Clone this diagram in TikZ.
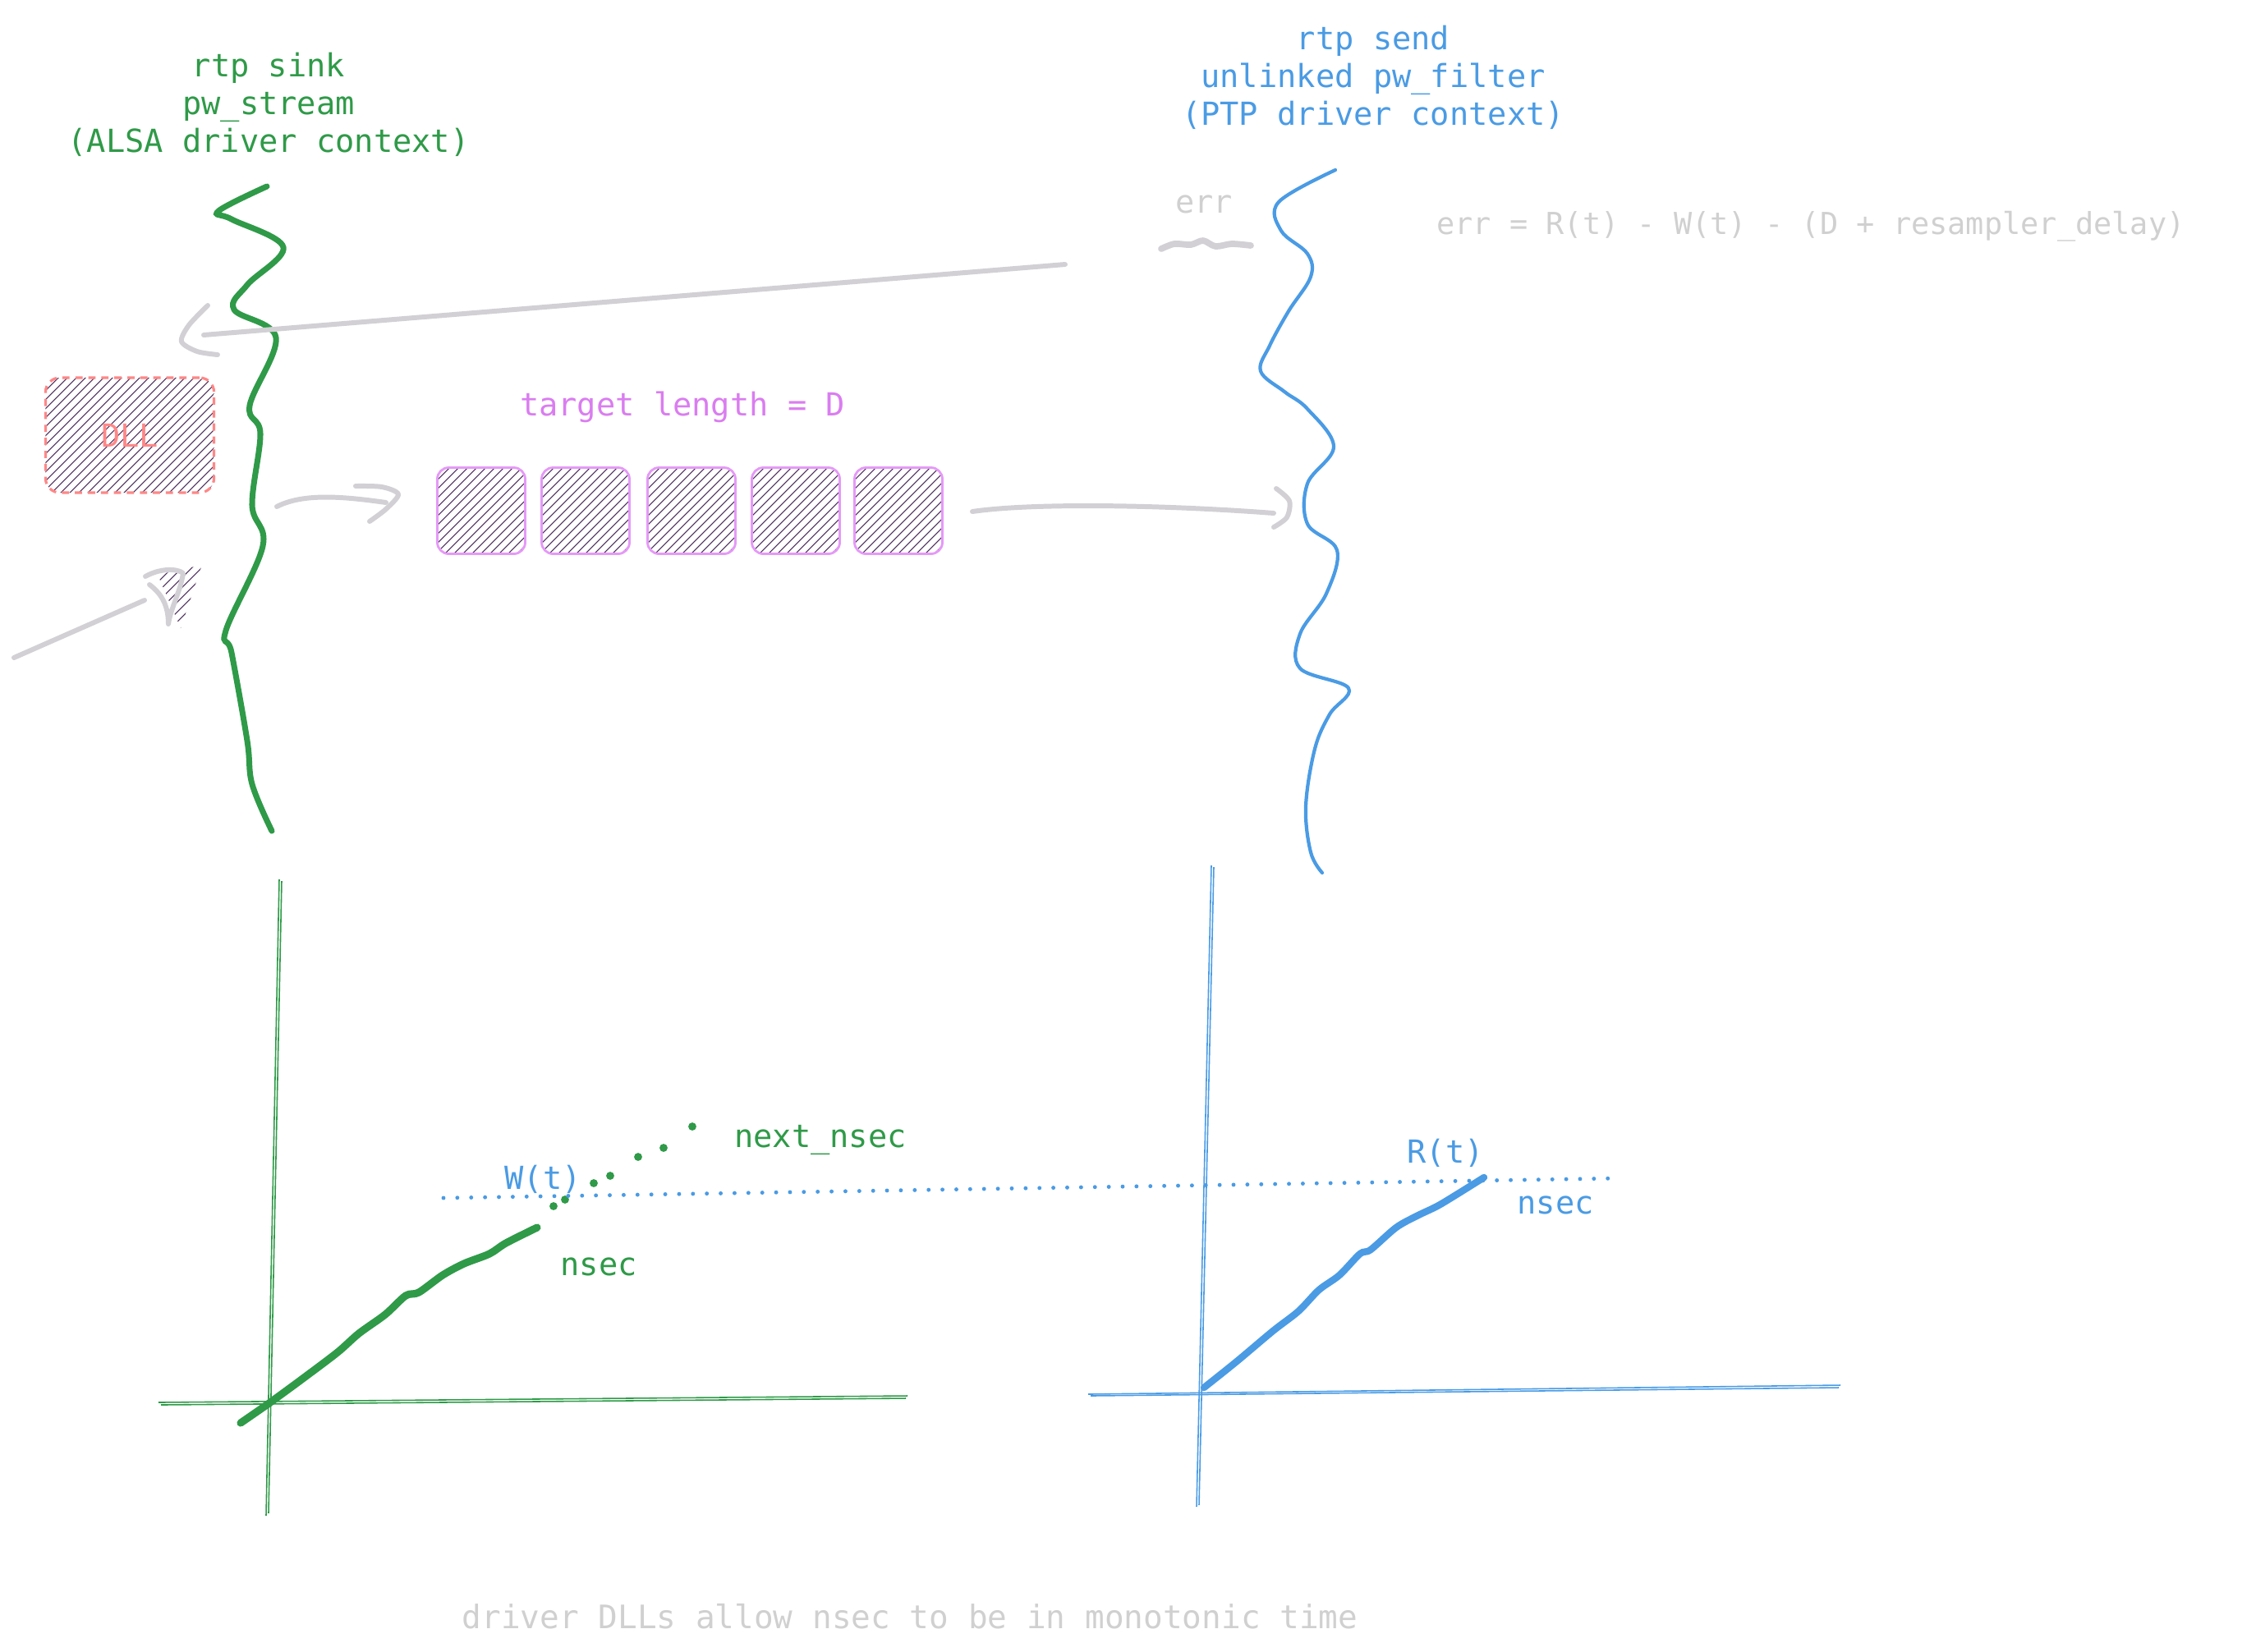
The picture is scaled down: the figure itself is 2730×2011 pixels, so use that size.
\documentclass[tikz,border=0pt]{standalone}
\usepackage{fontspec}
\setmainfont{DejaVu Sans Mono}
\usepackage{xcolor}
\usepackage{tikz}

\definecolor{sinkgreen}{HTML}{2F9A48}
\definecolor{sendblue}{HTML}{4A9BE4}
\definecolor{queuepink}{HTML}{E599F7}
\definecolor{queuetext}{HTML}{DA7DF0}
\definecolor{dllred}{HTML}{FF8787}
\definecolor{sketchgray}{HTML}{D2D0D4}
\definecolor{notegray}{HTML}{D0D0D0}
\definecolor{hatchpurple}{HTML}{4B2D5C}

\begin{document}
\begin{tikzpicture}[x=0.01cm,y=-0.01cm,
  lbl/.style={inner sep=0pt,font=\fontsize{11}{13.1}\selectfont},
  note/.style={inner sep=0pt,text=notegray,font=\fontsize{10.5}{12.6}\selectfont},
  sketch/.style={sketchgray,line width=1.7pt,line cap=round,line join=round},
  hatched/.style={path picture={\foreach \k in {-190,-179,...,190}
      \draw[hatchpurple,solid,line width=0.3pt] (path picture bounding box.center) ++(\k-100,100) -- ++(200,-200);}},
  qbox/.style={draw=queuepink,line width=0.8pt,rounded corners=4pt,minimum width=1.07cm,minimum height=1.05cm,inner sep=0pt,hatched},
  dllbox/.style={draw=dllred,line width=0.9pt,dash pattern=on 2.5pt off 2pt,rounded corners=5pt,minimum width=2.05cm,minimum height=1.4cm,inner sep=0pt,hatched,text=dllred,font=\fontsize{11}{13.1}\selectfont},
  axisg/.style={sinkgreen,line width=0.45pt},
  axisb/.style={sendblue,line width=0.45pt}]
\useasboundingbox (0,0) rectangle (2730,2011);

% titres
\node[lbl,text=sinkgreen,align=center] (sinktitle) at (327,127) {rtp sink\\pw\_stream\\(ALSA driver context)};
\node[lbl,text=sendblue,align=center] (sendtitle) at (1672,94) {rtp send\\unlinked pw\_filter\\(PTP driver context)};

% lignes des threads
\draw[sinkgreen,line width=2pt,line cap=round] plot[smooth,tension=0.6] coordinates {(325,227) (266,257) (282,267) (345,301) (301,347) (285,377) (336,411) (304,494) (317,528) (307,615) (320,665) (275,768) (282,795) (301,902) (307,955) (331,1012)};
\draw[sendblue,line width=1.2pt,line cap=round] plot[smooth,tension=0.6] coordinates {(1626,207) (1557,246) (1560,281) (1592,309) (1596,337) (1569,379) (1546,421) (1535,452) (1564,477) (1592,498) (1624,544) (1592,589) (1592,638) (1628,670) (1615,723) (1583,772) (1583,814) (1642,838) (1619,870) (1601,912) (1590,982) (1596,1038) (1610,1063)};

% erreur
\node[note,font=\fontsize{11}{13.1}\selectfont] (errlabel) at (1466,249) {err};
\draw[sketch,line width=2.2pt] plot[smooth] coordinates {(1414,303) (1430,297) (1450,298) (1465,293) (1480,300) (1500,297) (1523,299)};
\node[note] (errformula) at (2205,276) {err = R(t) - W(t) - (D + resampler\_delay)};
\coordinate (errtail) at (1297,322);
\coordinate (errtip) at (248,408);
\draw[sketch] (errtail) -- (errtip);
\draw[sketch] plot[smooth] coordinates {(253,372) (230,396) (221,416) (240,428) (265,432)};

% DLL
\node[dllbox] (dll) at (158,530) {DLL};
\coordinate (inTail) at (17,801);
\coordinate (inTip) at (176,731);
\draw[sketch] (inTail) -- (inTip);
\begin{scope}
\clip (192,700) -- (246,688) -- (220,765) -- cycle;
\foreach \k in {-60,-48,...,60}
  \draw[hatchpurple,line width=0.3pt] (212,725) ++(\k-50,50) -- ++(100,-100);
\end{scope}
\draw[sketch] (177,702) .. controls (195,692) and (215,692) .. (223,698) .. controls (220,720) and (208,740) .. (205,760) .. controls (205,735) and (195,722) .. (182,712);

% file d'attente
\node[lbl,text=queuetext] (target) at (831,496) {target length = D};
\foreach \i/\x in {1/586,2/713,3/842,4/969,5/1094}
  \node[qbox] (q\i) at (\x,622) {};
\coordinate (qinA) at (337,617);
\coordinate (qinB) at (470,612);
\draw[sketch] (qinA) .. controls (370,600) and (420,605) .. (qinB);
\draw[sketch] plot[smooth] coordinates {(433,592) (465,593) (485,602) (470,620) (450,635)};
\coordinate (qoutA) at (1184,623);
\coordinate (qoutB) at (1551,625);
\draw[sketch] (qoutA) .. controls (1260,612) and (1420,615) .. (qoutB);
\draw[sketch] plot[smooth] coordinates {(1554,595) (1570,610) (1567,630) (1551,642)};

% graphe W(t)
\draw[axisg] (340,1071) -- (324,1846);
\draw[axisg] (343,1073) -- (327,1843);
\draw[axisg] (193,1708) -- (1105,1700);
\draw[axisg] (196,1711) -- (1103,1703);
\draw[sinkgreen,line width=2.6pt,line cap=round,line join=round] plot[smooth] coordinates {(293,1733) (329,1708) (370,1678) (411,1647) (437,1624) (469,1601) (494,1578) (510,1574) (539,1553) (565,1539) (596,1527) (616,1514) (654,1495)};
\foreach \p in {(674,1469),(688,1461),(723,1441),(743,1432),(777,1409),(808,1398),(843,1372)}
  \fill[sinkgreen] \p circle (1.4pt);
\node[lbl,text=sendblue] (wlabel) at (661,1436) {W(t)};
\node[lbl,text=sinkgreen] (nextlabel) at (999,1388) {next\_nsec};
\node[lbl,text=sinkgreen] (nsecw) at (729,1543) {nsec};

% ligne pointillée
\coordinate (dotl) at (540,1459);
\coordinate (dotr) at (1973,1435);
\draw[sendblue,line width=1.4pt,line cap=round,dash pattern=on 0pt off 4.8pt] (dotl) -- (dotr);

% graphe R(t)
\draw[axisb] (1475,1054) -- (1457,1835);
\draw[axisb] (1478,1056) -- (1460,1833);
\draw[axisb] (1325,1698) -- (2241,1687);
\draw[axisb] (1328,1700) -- (2239,1690);
\draw[sendblue,line width=2.4pt,line cap=round,line join=round] plot[smooth] coordinates {(1466,1690) (1506,1658) (1550,1621) (1581,1597) (1606,1571) (1631,1553) (1656,1527) (1669,1522) (1700,1495) (1725,1481) (1750,1469) (1775,1454) (1807,1434)};
\node[lbl,text=sendblue] (rlabel) at (1760,1404) {R(t)};
\node[lbl,text=sendblue] (nsecr) at (1894,1468) {nsec};

% note
\node[note,font=\fontsize{11.2}{13.4}\selectfont] (footnote) at (1108,1969) {driver DLLs allow nsec to be in monotonic time};
\end{tikzpicture}
\end{document}
